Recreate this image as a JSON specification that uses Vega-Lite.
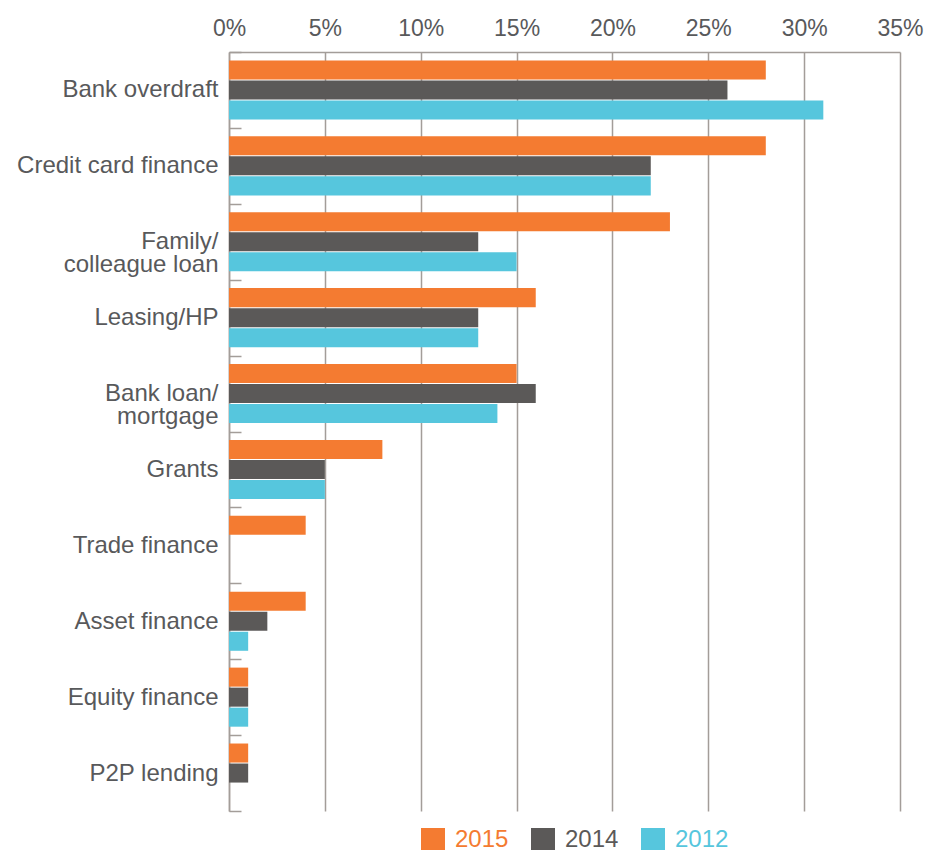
{
  "$schema": "https://vega.github.io/schema/vega-lite/v6.json",
  "width": 671,
  "height": 759,
  "autosize": {"type": "none"},
  "padding": {"left": 229, "top": 52, "right": 26, "bottom": 39},
  "config": {
    "view": {"stroke": null},
    "font": "Liberation Sans",
    "axis": {"labelFont": "Liberation Sans", "labelColor": "#58595b"}
  },
  "data": {
    "values": [
      {"source": "Bank overdraft", "year": "2015", "pct": 28},
      {"source": "Bank overdraft", "year": "2014", "pct": 26},
      {"source": "Bank overdraft", "year": "2012", "pct": 31},
      {"source": "Credit card finance", "year": "2015", "pct": 28},
      {"source": "Credit card finance", "year": "2014", "pct": 22},
      {"source": "Credit card finance", "year": "2012", "pct": 22},
      {"source": "Family/|colleague loan", "year": "2015", "pct": 23},
      {"source": "Family/|colleague loan", "year": "2014", "pct": 13},
      {"source": "Family/|colleague loan", "year": "2012", "pct": 15},
      {"source": "Leasing/HP", "year": "2015", "pct": 16},
      {"source": "Leasing/HP", "year": "2014", "pct": 13},
      {"source": "Leasing/HP", "year": "2012", "pct": 13},
      {"source": "Bank loan/|mortgage", "year": "2015", "pct": 15},
      {"source": "Bank loan/|mortgage", "year": "2014", "pct": 16},
      {"source": "Bank loan/|mortgage", "year": "2012", "pct": 14},
      {"source": "Grants", "year": "2015", "pct": 8},
      {"source": "Grants", "year": "2014", "pct": 5},
      {"source": "Grants", "year": "2012", "pct": 5},
      {"source": "Trade finance", "year": "2015", "pct": 4},
      {"source": "Asset finance", "year": "2015", "pct": 4},
      {"source": "Asset finance", "year": "2014", "pct": 2},
      {"source": "Asset finance", "year": "2012", "pct": 1},
      {"source": "Equity finance", "year": "2015", "pct": 1},
      {"source": "Equity finance", "year": "2014", "pct": 1},
      {"source": "Equity finance", "year": "2012", "pct": 1},
      {"source": "P2P lending", "year": "2015", "pct": 1},
      {"source": "P2P lending", "year": "2014", "pct": 1}
    ]
  },
  "mark": {"type": "bar"},
  "encoding": {
    "y": {
      "field": "source",
      "type": "nominal",
      "sort": null,
      "scale": {"paddingInner": 0, "paddingOuter": 0},
      "axis": {
        "title": null,
        "labelExpr": "isValid(datum.value) ? split(datum.value, '|') : ''",
        "labelFontSize": 24,
        "labelLineHeight": 23,
        "labelPadding": 23,
        "labelLimit": 300,
        "ticks": true,
        "tickBand": "extent",
        "tickSize": -12,
        "tickColor": "#a39d99",
        "tickWidth": 1.5,
        "domainColor": "#a39d99",
        "domainWidth": 1.5,
        "grid": false
      }
    },
    "yOffset": {
      "field": "year",
      "type": "nominal",
      "sort": ["2015", "2014", "2012"],
      "scale": {"paddingInner": 0.05, "paddingOuter": 0.42}
    },
    "x": {
      "field": "pct",
      "type": "quantitative",
      "scale": {"domain": [0, 35]},
      "axis": {
        "orient": "top",
        "title": null,
        "values": [0, 5, 10, 15, 20, 25, 30, 35],
        "labelExpr": "datum.value + '%'",
        "labelFontSize": 23,
        "labelPadding": 12,
        "labelFlush": false,
        "labelOverlap": false,
        "ticks": false,
        "grid": true,
        "gridColor": "#a39d99",
        "gridWidth": 1.5,
        "domainColor": "#a39d99",
        "domainWidth": 1.5
      }
    },
    "color": {
      "field": "year",
      "type": "nominal",
      "scale": {"domain": ["2015", "2014", "2012"], "range": ["#f47b31", "#5b5958", "#56c6dd"]},
      "legend": {
        "title": null,
        "orient": "none",
        "direction": "horizontal",
        "legendX": 192,
        "legendY": 776,
        "padding": 0,
        "symbolType": "square",
        "symbolSize": 576,
        "symbolStrokeWidth": 0,
        "symbolOpacity": 1,
        "labelFontSize": 24,
        "labelFont": "Liberation Sans",
        "labelOffset": 10,
        "columnPadding": 22,
        "encode": {
          "labels": {
            "update": {
              "fill": {"signal": "datum.value === '2015' ? '#f47b31' : datum.value === '2014' ? '#5b5958' : '#56c6dd'"}
            }
          }
        }
      }
    }
  }
}
